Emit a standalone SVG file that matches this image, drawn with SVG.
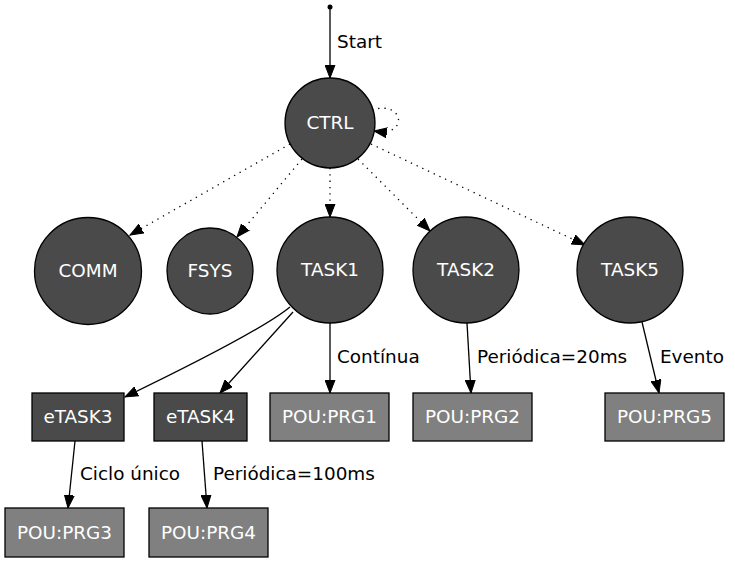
<svg xmlns="http://www.w3.org/2000/svg" width="735" height="562" viewBox="0 0 735 562">
<style>
.c{fill:#4a4a4a;stroke:#000;stroke-width:1.3}
.d{fill:#4a4a4a;stroke:#000;stroke-width:1.3}
.p{fill:#808080;stroke:#000;stroke-width:1.3}
.t{font-family:"DejaVu Sans",sans-serif;font-size:18.4px;fill:#fff;text-anchor:middle}
.l{font-family:"DejaVu Sans",sans-serif;font-size:18.4px;fill:#000}
.e{fill:none;stroke:#000;stroke-width:1.3}
.dot{stroke-dasharray:1.3 5}
</style>
<defs>
<marker id="a" markerUnits="userSpaceOnUse" markerWidth="14" markerHeight="11" refX="13" refY="5.5" orient="auto" viewBox="0 0 14 11">
<path d="M0,0.5 L13,5.5 L0,10.5 Z" fill="#000" stroke="#000" stroke-width="1"/>
</marker>
</defs>
<g id="connectors">
<circle cx="330" cy="7" r="2.5" fill="#000"/>
<path class="e" d="M330,9 L330,78" marker-end="url(#a)"/>
<text class="l" x="337" y="48">Start</text>
<path class="e dot" d="M372,110 C390,104 401,114 398,123 C396,130 388,133 374,131" marker-end="url(#a)"/>
<path class="e dot" d="M290,144 L130,235" marker-end="url(#a)"/>
<path class="e dot" d="M302,159 L237,237" marker-end="url(#a)"/>
<path class="e dot" d="M330,168 L330,217" marker-end="url(#a)"/>
<path class="e dot" d="M358,159 L430,231" marker-end="url(#a)"/>
<path class="e dot" d="M371,144 L585,245" marker-end="url(#a)"/>
<path class="e" d="M290,307 C262,330 185,368 125,397" marker-end="url(#a)"/>
<path class="e" d="M293,312 L220,393" marker-end="url(#a)"/>
<path class="e" d="M330,323 L330,393" marker-end="url(#a)"/>
<text class="l" x="337" y="363">Contínua</text>
<path class="e" d="M467,323 L471,393" marker-end="url(#a)"/>
<text class="l" x="477" y="363">Periódica=20ms</text>
<path class="e" d="M642,322 L659,393" marker-end="url(#a)"/>
<text class="l" x="660" y="363">Evento</text>
<path class="e" d="M75,441 L68,508" marker-end="url(#a)"/>
<text class="l" x="80" y="480">Ciclo único</text>
<path class="e" d="M202,441 L207,508" marker-end="url(#a)"/>
<text class="l" x="213" y="480">Periódica=100ms</text>
</g>
<g id="CTRL"><circle class="c" cx="330" cy="123" r="45"/><text class="t" x="330" y="129">CTRL</text></g>
<g id="COMM"><circle class="c" cx="88" cy="271" r="53.5"/><text class="t" x="88" y="277">COMM</text></g>
<g id="FSYS"><circle class="c" cx="210" cy="271" r="43"/><text class="t" x="210" y="277">FSYS</text></g>
<g id="TASK1"><circle class="c" cx="330" cy="270" r="53"/><text class="t" x="330" y="276">TASK1</text></g>
<g id="TASK2"><circle class="c" cx="466" cy="270" r="53"/><text class="t" x="466" y="276">TASK2</text></g>
<g id="TASK5"><circle class="c" cx="630" cy="270" r="53"/><text class="t" x="630" y="276">TASK5</text></g>
<g id="eTASK3"><rect class="d" x="32" y="393" width="92" height="48"/><text class="t" x="78" y="423">eTASK3</text></g>
<g id="eTASK4"><rect class="d" x="154" y="393" width="93" height="48"/><text class="t" x="200.5" y="423">eTASK4</text></g>
<g id="PRG1"><rect class="p" x="270" y="393" width="119" height="48"/><text class="t" x="329.5" y="423">POU:PRG1</text></g>
<g id="PRG2"><rect class="p" x="413" y="393" width="119" height="48"/><text class="t" x="472.5" y="423">POU:PRG2</text></g>
<g id="PRG5"><rect class="p" x="605" y="393" width="119" height="48"/><text class="t" x="664.5" y="423">POU:PRG5</text></g>
<g id="PRG3"><rect class="p" x="5" y="508" width="119" height="49"/><text class="t" x="64.5" y="539">POU:PRG3</text></g>
<g id="PRG4"><rect class="p" x="149" y="508" width="119" height="49"/><text class="t" x="208.5" y="539">POU:PRG4</text></g>
</svg>
